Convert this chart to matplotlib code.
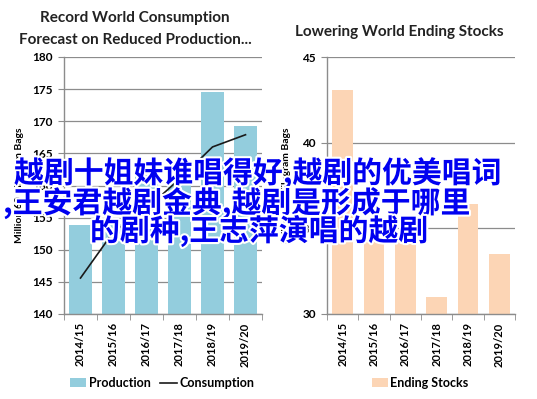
import matplotlib
matplotlib.use('Agg')
import matplotlib.pyplot as plt
import matplotlib.patheffects as pe
import numpy as np

# data
years = ['2014/15', '2015/16', '2016/17', '2017/18', '2018/19', '2019/20']
production = [153.8, 154.0, 161.6, 160.5, 174.5, 169.2]
consumption = [145.6, 152.8, 156.4, 161.0, 166.0, 167.9]
ending_stocks = [43.1, 34.4, 34.2, 31.0, 36.4, 33.5]

overlay_lines = ['越剧十姐妹谁唱得好,越剧的优美唱词',
                 ',王安君越剧金典,越剧是形成于哪里',
                 '的剧种,王志萍演唱的越剧']

W, H = 537, 399
plt.rcParams['font.family'] = ['Lato', 'DejaVu Sans']
plt.rcParams['font.weight'] = 'bold'

fig = plt.figure(figsize=(W / 100, H / 100), dpi=100)


def px_axes(left, right, top, bottom):
    return fig.add_axes([left / W, (H - bottom) / H, (right - left) / W, (bottom - top) / H])


def style(ax, ylo, yhi, step):
    grey = '#8c8c8c'
    ax.set_xlim(-0.5, 5.5)
    ax.set_ylim(ylo, yhi)
    ax.set_yticks(np.arange(ylo, yhi + 0.1, step))
    for s in ['top', 'right']:
        ax.spines[s].set_visible(False)
    for s in ['left', 'bottom']:
        ax.spines[s].set_color(grey)
        ax.spines[s].set_linewidth(1.0)
    ax.yaxis.grid(True, color=grey, linewidth=0.9)
    ax.set_axisbelow(True)
    ax.set_xticks(np.arange(6))
    ax.set_xticklabels(years, rotation=90, fontsize=8, fontweight='bold')
    ax.set_xticks(np.arange(-0.5, 6, 1), minor=True)
    ax.tick_params(axis='x', which='major', length=0, pad=6)
    ax.tick_params(axis='x', which='minor', length=4, color=grey)
    ax.tick_params(axis='y', length=4, color=grey, labelsize=8.5, pad=4)
    for t in ax.get_yticklabels():
        t.set_fontweight('bold')


# left chart
ax1 = px_axes(64, 262, 57, 314)
x = np.arange(len(years))
bars = ax1.bar(x, production, width=0.7, color='#93cddd', label='Production')
line, = ax1.plot(x, consumption, color='#1a1a1a', linewidth=1.2, label='Consumption')
style(ax1, 140, 180, 5)
ax1.set_ylabel('Million 60 Kilogram Bags', fontsize=7.5, fontweight='bold', labelpad=6)
ax1.legend([bars, line], ['Production', 'Consumption'], loc='center',
           bbox_to_anchor=(162 / W, 1 - 383 / H), bbox_transform=fig.transFigure,
           ncol=2, frameon=False, fontsize=9, handlelength=1.3, handletextpad=0.2,
           columnspacing=0.8, borderaxespad=0)

# right chart
ax2 = px_axes(327, 515, 57, 314)
ax2.bar(x, ending_stocks, width=0.67, color='#fcd5b5', label='Ending Stocks')
style(ax2, 30, 45, 5)
ax2.set_ylabel('Million 60 Kilogram Bags', fontsize=7.5, fontweight='bold', labelpad=8)
ax2.legend(loc='center', bbox_to_anchor=(420 / W, 1 - 383 / H), bbox_transform=fig.transFigure,
           frameon=False, fontsize=9, handlelength=1.3, handletextpad=0.2, borderaxespad=0)

# titles
fig.text(135 / W, 1 - 18 / H, 'Record World Consumption', ha='center', va='center',
         fontsize=11, fontweight='bold', color='#222222')
fig.text(135 / W, 1 - 40 / H, 'Forecast on Reduced Production...', ha='center', va='center',
         fontsize=11, fontweight='bold', color='#222222')
fig.text(399 / W, 1 - 32 / H, 'Lowering World Ending Stocks', ha='center', va='center',
         fontsize=11, fontweight='bold', color='#222222')

# overlay watermark text
starts = [(14, 173), (3, 203), (90, 231)]
for txt, (lx, ly) in zip(overlay_lines, starts):
    fig.text(lx / W, 1 - ly / H, txt, ha='left', va='center', fontsize=21.5,
             family=['Noto Sans CJK SC', 'DejaVu Sans'], fontweight='bold', color='#0000f0',
             path_effects=[pe.withStroke(linewidth=3, foreground='white')])

fig.savefig('out.png', dpi=100)
